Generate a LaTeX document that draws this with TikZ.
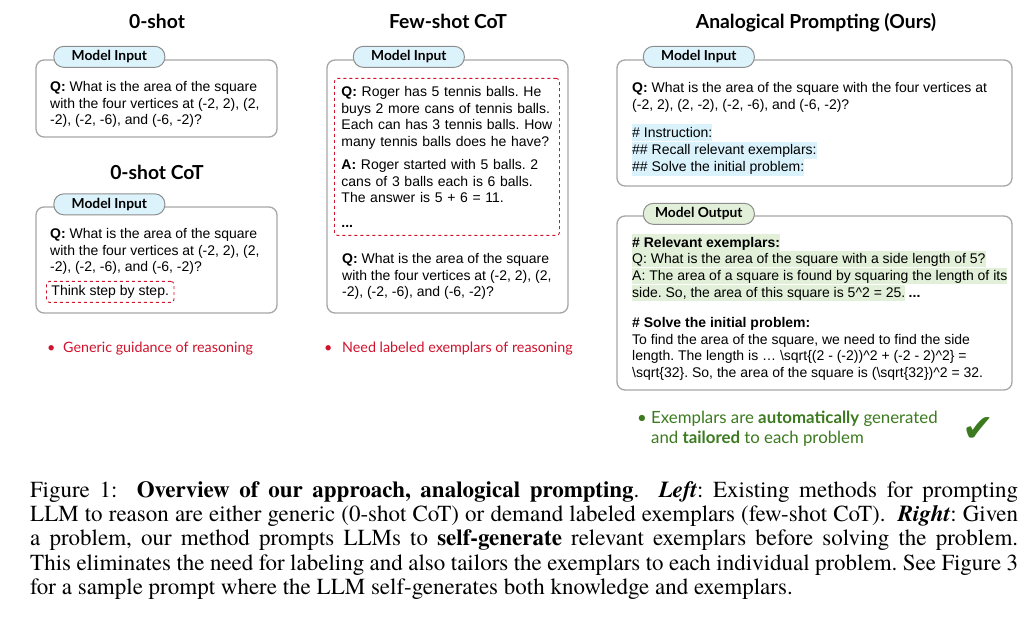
\documentclass[tikz,border=0pt]{standalone}
\usepackage{fontspec}
\setmainfont{Liberation Sans}
\newfontfamily\capfont{TeX Gyre Termes}
\newfontfamily\headfont{Lato}
\newfontfamily\symfont{DejaVu Sans}
\usetikzlibrary{calc,positioning}
\frenchspacing
\definecolor{apgray}{HTML}{A6A6A6}
\definecolor{aptagblue}{HTML}{DDF3FC}
\definecolor{aptaggreen}{HTML}{E2F0D9}
\definecolor{aphlblue}{HTML}{DAF2FC}
\definecolor{aphlgreen}{HTML}{E2F0D9}
\definecolor{apred}{HTML}{D0122C}
\definecolor{apgreen}{HTML}{3B7A1E}
\tikzset{
 ap box/.style={draw=apgray,line width=1.3pt,rounded corners=8pt,fill=white,inner sep=0pt},
 ap tag/.style={draw=apgray!85!black,line width=1pt,rounded corners=10pt,minimum width=111pt,
                minimum height=21pt,inner sep=0pt,font=\headfont\bfseries\fontsize{13.8}{14}\selectfont},
 ap title/.style={anchor=base,inner sep=0pt,font=\headfont\bfseries\fontsize{19.3}{20}\selectfont},
 ap text/.style={anchor=north west,inner sep=0pt,align=left,font=\fontsize{14}{16.7}\selectfont},
 ap hl/.style={anchor=north west,inner sep=0pt,text height=12.7pt,text depth=3.6pt,
               font=\fontsize{14}{16.7}\selectfont},
 ap dashed/.style={draw=apred,dashed,line width=.9pt,rounded corners=3pt},
 ap note/.style={anchor=north west,inner sep=0pt,align=left,font=\headfont\fontsize{14.3}{20}\selectfont}
}

\begin{document}
\begin{tikzpicture}[x=1pt,y=-1pt]
 \useasboundingbox (0,0) rectangle (1026,620);

 % titles of the three columns
 \node[ap title] (t0) at (157,29) {0-shot};
 \node[ap title] (t1) at (157,180) {0-shot CoT};
 \node[ap title] (t2) at (448,29) {Few-shot CoT};
 \node[ap title] (t3) at (816,29) {Analogical Prompting (Ours)};

 % boxes
 \node[ap box,minimum width=241,minimum height=77] (zsbox) at (156.5,98.5) {};
 \node[ap box,minimum width=241,minimum height=106] (zcbox) at (156.5,260) {};
 \node[ap box,minimum width=241,minimum height=253] (fsbox) at (447.5,186.5) {};
 \node[ap box,minimum width=395,minimum height=126] (inbox) at (814.5,123) {};
 \node[ap box,minimum width=395,minimum height=174] (outbox) at (814.5,303) {};

 \node[ap tag,fill=aptagblue] (zstag) at ($(zsbox.north west)+(74,-2.5)$) {Model Input};
 \node[ap tag,fill=aptagblue] (zctag) at ($(zcbox.north west)+(74,-2)$) {Model Input};
 \node[ap tag,fill=aptagblue] (fstag) at ($(fsbox.north west)+(82.5,-2.5)$) {Model Input};
 \node[ap tag,fill=aptagblue] (intag) at ($(inbox.north west)+(82.5,-2.5)$) {Model Input};
 \node[ap tag,fill=aptaggreen] (outtag) at ($(outbox.north west)+(82.5,-1.5)$) {Model Output};

 % 0-shot and 0-shot CoT
 \node[ap text] (zsq) at (50,81) {\textbf{Q:} What is the area of the square\\
   with the four vertices at (-2, 2), (2,\\-2), (-2, -6), and (-6, -2)?};
 \node[ap text] (zcq) at (50,228) {\textbf{Q:} What is the area of the square\\
   with the four vertices at (-2, 2), (2,\\-2), (-2, -6), and (-6, -2)?};
 \node[ap dashed,ap text,inner xsep=5pt,inner ysep=3pt,text height=11pt,text depth=4pt]
   (think) at (46,281) {Think step by step.};

 % few-shot CoT
 \node[ap dashed,ap text,text width=211pt,inner xsep=7pt,inner ysep=7pt,minimum height=157pt]
   (exq) at (334,78) {\textbf{Q:} Roger has 5 tennis balls. He\\buys 2 more cans of tennis balls.\\
   Each can has 3 tennis balls. How\\many tennis balls does he have?\\[6pt]
   \textbf{A:} Roger started with 5 balls. 2\\cans of 3 balls each is 6 balls.\\
   The answer is 5 + 6 = 11.\\[8pt]\textbf{...}};
 \node[ap text] (fsq) at (342,253) {\textbf{Q:} What is the area of the square\\
   with the four vertices at (-2, 2), (2,\\-2), (-2, -6), and (-6, -2)?};

 % analogical prompting: input
 \node[ap text] (inq) at (632,82) {\textbf{Q:} What is the area of the square with the four vertices at\\
   (-2, 2), (2, -2), (-2, -6), and (-6, -2)?};
 \node[ap hl,fill=aphlblue,text height=13pt,text depth=4pt] (ins1) at (632,124) {\# Instruction:};
 \node[ap hl,fill=aphlblue,text height=13pt,text depth=4pt,below=0pt of ins1.south west,anchor=north west]
   (ins2) {\#\# Recall relevant exemplars:};
 \node[ap hl,fill=aphlblue,text height=13pt,text depth=4pt,below=0pt of ins2.south west,anchor=north west]
   (ins3) {\#\# Solve the initial problem:};

 % analogical prompting: output
 \node[ap hl,fill=aphlgreen] (rel1) at (632,234.3) {\textbf{\# Relevant exemplars:}};
 \node[ap hl,fill=aphlgreen,below=0pt of rel1.south west,anchor=north west]
   (rel2) {Q: What is the area of the square with a side length of 5?};
 \node[ap hl,fill=aphlgreen,below=0pt of rel2.south west,anchor=north west]
   (rel3) {A: The area of a square is found by squaring the length of its};
 \node[ap hl,fill=aphlgreen,below=0pt of rel3.south west,anchor=north west]
   (rel4) {side. So, the area of this square is 5\textasciicircum 2 = 25.\ };
 \node[ap hl,right=3pt of rel4] (rel5) {\textbf{...}};
 \node[ap text] (solve) at (632,317) {\textbf{\# Solve the initial problem:}\\
   To find the area of the square, we need to find the side\\
   length. The length is … \textbackslash sqrt\{(2 - (-2))\textasciicircum 2 + (-2 - 2)\textasciicircum 2\} =\\
   \textbackslash sqrt\{32\}. So, the area of the square is (\textbackslash sqrt\{32\})\textasciicircum 2 = 32.};

 % remarks under the columns
 \node[ap note,text=apred] (n0) at (47,342) {\makebox[16pt][l]{\textbullet}Generic guidance of reasoning};
 \node[ap note,text=apred] (n1) at (324,342) {\makebox[18pt][l]{\textbullet}Need labeled exemplars of reasoning};
 \node[ap note,text=apgreen,font=\headfont\fontsize{16.8}{20}\selectfont] (n2) at (637,411)
   {\makebox[14pt][l]{\textbullet}Exemplars are \textbf{automatically} generated\\
   \hspace*{14pt}and \textbf{tailored} to each problem};
 \node[text=apgreen,inner sep=0pt,font=\symfont\fontsize{38}{38}\selectfont] (chk) at (978,430) {✔};

 % caption
 \node[anchor=north west,inner sep=0pt,text width=988pt,align=justify,
       font=\capfont\fontsize{23}{24.25}\selectfont] (cap) at (30,481)
 {Figure 1:\ \ \textbf{Overview of our approach, analogical prompting}.\ \ \textbf{\textit{Left}}: Existing methods for prompting\linebreak
  LLM to reason are either generic (0-shot CoT) or demand labeled exemplars (few-shot CoT).\ \ \textbf{\textit{Right}}: Given\linebreak
  a problem, our method prompts LLMs to \textbf{self-generate} relevant exemplars before solving the problem.\linebreak
  This eliminates the need for labeling and also tailors the exemplars to each individual problem. See Figure 3\linebreak
  for a sample prompt where the LLM self-generates both knowledge and exemplars.};
\end{tikzpicture}
\end{document}
